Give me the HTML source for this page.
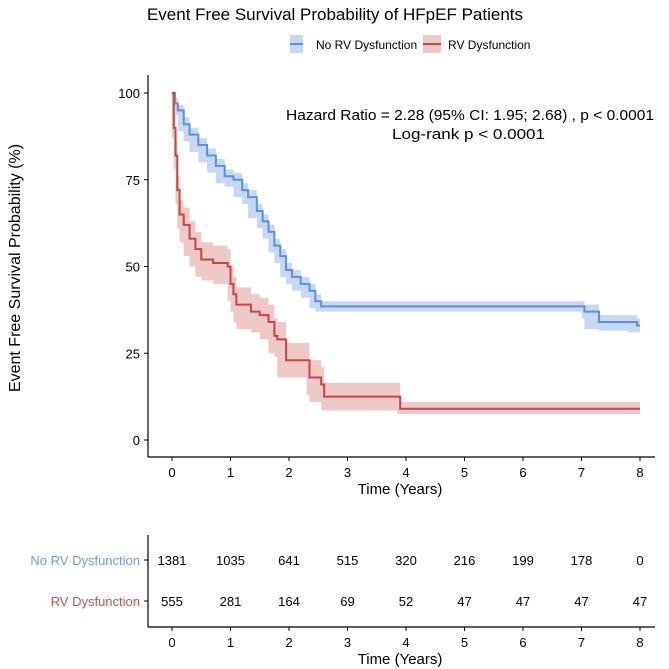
<!DOCTYPE html>
<html><head><meta charset="utf-8"><style>
body{margin:0;background:#fff;}
svg{display:block;font-family:"Liberation Sans",sans-serif;}
</style></head><body>
<svg id="c" width="669" height="669" viewBox="0 0 669 669">
<text x="335" y="20" text-anchor="middle" font-size="17" fill="#000">Event Free Survival Probability of HFpEF Patients</text>
<g>
<g>
<rect x="290" y="35" width="13" height="18" fill="#c6d8f5"/><line x1="290" y1="44" x2="303" y2="44" stroke="#5b8fe0" stroke-width="2"/>
<text x="316" y="49" font-size="12">No RV Dysfunction</text></g>
<g>
<rect x="423" y="35" width="18" height="18" fill="#efc8c8"/><line x1="423" y1="44" x2="441" y2="44" stroke="#cc4444" stroke-width="2"/>
<text x="448" y="49" font-size="12">RV Dysfunction</text></g>
</g>
<text x="286" y="120" font-size="15" textLength="368" lengthAdjust="spacingAndGlyphs">Hazard Ratio = 2.28 (95% CI: 1.95; 2.68) , p &lt; 0.0001</text>
<text x="392" y="139" font-size="15" textLength="153" lengthAdjust="spacingAndGlyphs">Log-rank  p &lt; 0.0001</text>
<text transform="translate(20,268) rotate(-90)" text-anchor="middle" font-size="16">Event Free Survival Probability (%)</text>
<g id="plot"></g>
<g id="risk"></g>
</svg>
<script>
const yTicks=[0,25,50,75,100];
const xTicks=[0,1,2,3,4,5,6,7,8];
const blueT=[0,0.05,0.1,0.2,0.3,0.45,0.6,0.75,0.9,1.05,1.2,1.3,1.45,1.55,1.65,1.75,1.85,1.95,2.05,2.2,2.35,2.45,2.55,7.0,7.05,7.3,7.8,7.95,8.0];
const blueS=[100,97,95,91,88,85,82,79,76,75,72,70,66,63,60,56,53,49,47,45,43,40,38.5,38.5,37,34,34,33,33];
const blueLo=[100,95.5,93.5,89,86,83,80,77,74,73,70,68,64,61,58,54,51,47,45,43,41,38,37,37,35,32,31.5,31,31];
const blueHi=[100,98.5,96.5,93,90,87,84,81,78,77,74,72,68,65,62,58,55,51,49,47,45,42,40,40,39,36,36,35,35];
const redT=[0,0.03,0.06,0.09,0.13,0.2,0.3,0.4,0.5,0.7,0.95,1.0,1.05,1.1,1.35,1.5,1.65,1.75,1.8,1.95,2.3,2.35,2.55,2.6,3.85,3.9,8.0];
const redS=[100,90,82,72,65,62,58,55,52,51,50,45,42,39,37,36,34,30,29,23,23,18,16,12.5,12.5,9,9];
const redLo=[100,87,78,68,61,57,53,50,47,46,45,40,37,34,32,31,29,25,24,18,18,13,11,8.5,8.5,7.5,7.5];
const redHi=[100,93,86,76,69,67,63,60,57,56,55,50,47,44,42,41,39,35,34,28,28,23,21,16.5,16.5,11,11];
const riskNo=[1381,1035,641,515,320,216,199,178,0];
const riskRv=[555,281,164,69,52,47,47,47,47];
const NS="http://www.w3.org/2000/svg";
const sx=t=>172+t*58.5, sy=v=>440-v*3.47;
function mk(tag,attrs,parent){const e=document.createElementNS(NS,tag);for(const k in attrs)e.setAttribute(k,attrs[k]);parent.appendChild(e);return e;}
const plot=document.getElementById('plot');
let ax=mk('line',{x1:148,y1:75,x2:148,y2:457,stroke:'#000','stroke-width':1.2},plot);


ax=mk('line',{x1:148,y1:457,x2:655,y2:457,stroke:'#000','stroke-width':1.2},plot);


yTicks.forEach(v=>{mk('line',{x1:144,x2:148,y1:sy(v),y2:sy(v),stroke:'#000'},plot);
 const t=mk('text',{x:140,y:sy(v)+5,'text-anchor':'end','font-size':13},plot);t.textContent=v;
 
 });
function xaxis(g,y){xTicks.forEach(v=>{mk('line',{x1:sx(v),x2:sx(v),y1:y,y2:y+4,stroke:'#000'},g);
 const t=mk('text',{x:sx(v),y:y+20,'text-anchor':'middle','font-size':13},g);t.textContent=v;
 
 });
 const tt=mk('text',{x:400,y:y+37,'text-anchor':'middle','font-size':15},g);tt.textContent='Time (Years)';
 
 }
xaxis(plot,457);
function stepPath(T,S){let d='M'+sx(T[0])+','+sy(S[0]);for(let i=1;i<T.length;i++){d+='H'+sx(T[i])+'V'+sy(S[i]);}return d;}
function band(T,L,H){let d='M'+sx(T[0])+','+sy(H[0]);for(let i=1;i<T.length;i++)d+='H'+sx(T[i])+'V'+sy(H[i]);
 for(let i=T.length-1;i>0;i--)d+='V'+sy(L[i])+'H'+sx(T[i-1]);d+='V'+sy(L[0])+'Z';return d;}
let b=mk('path',{d:band(blueT,blueLo,blueHi),fill:'#c6d8f5'},plot);


b=mk('path',{d:band(redT,redLo,redHi),fill:'#efc8c8'},plot);


let l=mk('path',{d:stepPath(blueT,blueS),fill:'none',stroke:'#5b8fe0','stroke-width':2},plot);


l=mk('path',{d:stepPath(redT,redS),fill:'none',stroke:'#cc4444','stroke-width':2},plot);


const risk=document.getElementById('risk');
ax=mk('line',{x1:148,y1:535,x2:148,y2:627,stroke:'#000','stroke-width':1.2},risk);


ax=mk('line',{x1:148,y1:627,x2:655,y2:627,stroke:'#000','stroke-width':1.2},risk);


[['No RV Dysfunction',560,'#6f9be6',riskNo],['RV Dysfunction',601,'#d05050',riskRv]].forEach(([n,y,c,arr])=>{
 mk('line',{x1:144,x2:148,y1:y,y2:y,stroke:'#000'},risk);
 const t=mk('text',{x:140,y:y+5,'text-anchor':'end','font-size':13,fill:c},risk);t.textContent=n;
 
 
 arr.forEach((v,i)=>{const e=mk('text',{x:sx(xTicks[i]),y:y+5,'text-anchor':'middle','font-size':13},risk);e.textContent=v;
 
 });
});
xaxis(risk,627);
</script>
</body></html>
